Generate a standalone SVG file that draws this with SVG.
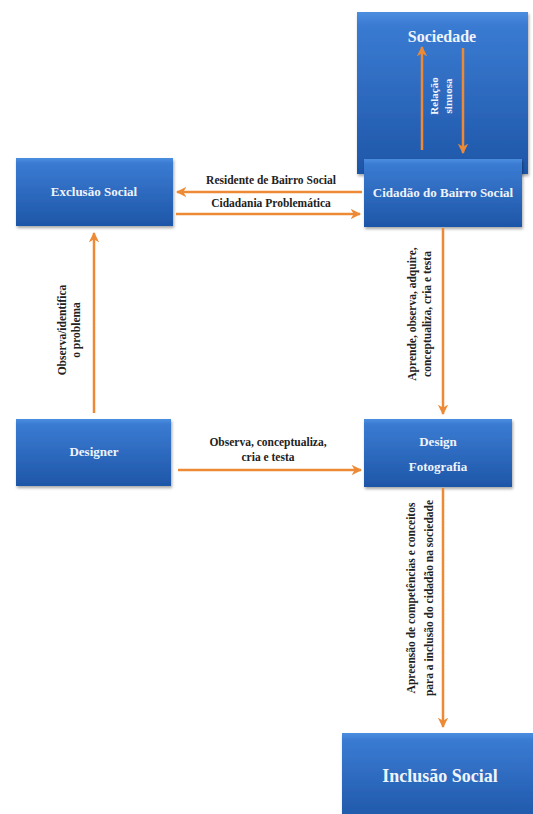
<svg xmlns="http://www.w3.org/2000/svg" width="533" height="814" viewBox="0 0 533 814">
<defs>
<linearGradient id="bg" x1="0" y1="0" x2="0" y2="1">
<stop offset="0" stop-color="#4b8ee0"/>
<stop offset="0.08" stop-color="#3a7bd2"/>
<stop offset="1" stop-color="#1e56a8"/>
</linearGradient>
<filter id="sh" x="-10%" y="-10%" width="130%" height="130%">
<feDropShadow dx="1" dy="2" stdDeviation="1.5" flood-color="#000" flood-opacity="0.35"/>
</filter>
<marker id="ah" viewBox="0 0 10 10" refX="9" refY="5" markerWidth="4.2" markerHeight="4.2" orient="auto" markerUnits="strokeWidth">
<path d="M0,0 L10,5 L0,10 L3,5 Z" fill="#ee8a36"/>
</marker>
</defs>
<style>
.box{fill:url(#bg);filter:url(#sh);}
.bt{font-family:"Liberation Serif",serif;font-weight:bold;fill:#eef4fb;text-anchor:middle;font-size:13px;}
.lt{font-family:"Liberation Serif",serif;font-weight:bold;fill:#222;text-anchor:middle;font-size:11.5px;}
.ar{stroke:#ee8a36;stroke-width:2.5;fill:none;marker-end:url(#ah);}
</style>
<rect width="533" height="814" fill="#ffffff"/>
<g id="sociedade">
<rect class="box" x="357" y="12" width="171" height="162"/>
<text class="bt" x="442" y="42" style="font-size:16px">Sociedade</text>
</g>
<g id="cidadao">
<rect class="box" x="364" y="159" width="158" height="68"/>
<text class="bt" x="443" y="197">Cidadão do Bairro Social</text>
</g>
<g id="exclusao">
<rect class="box" x="16" y="158" width="157" height="68"/>
<text class="bt" x="94" y="196">Exclusão Social</text>
</g>
<g id="designer">
<rect class="box" x="16" y="419" width="155" height="67"/>
<text class="bt" x="94" y="456">Designer</text>
</g>
<g id="design">
<rect class="box" x="364" y="419" width="148" height="68"/>
<text class="bt" x="438" y="446">Design</text>
<text class="bt" x="438" y="471">Fotografia</text>
</g>
<g id="inclusao">
<rect class="box" x="342" y="733" width="195" height="90"/>
<text class="bt" x="440" y="782" style="font-size:18px">Inclusão Social</text>
</g>
<g id="connectors">
<line class="ar" x1="422" y1="150" x2="422" y2="47"/>
<line class="ar" x1="463" y1="48" x2="463" y2="153"/>
<text class="bt" style="font-size:11px" transform="translate(438,96) rotate(-90)">Relação</text>
<text class="bt" style="font-size:11px" transform="translate(452,96) rotate(-90)">sinuosa</text>
<line class="ar" x1="362" y1="192" x2="177" y2="192"/>
<line class="ar" x1="176" y1="214" x2="360" y2="214"/>
<text class="lt" x="271" y="184">Residente de Bairro Social</text>
<text class="lt" x="271" y="207">Cidadania Problemática</text>
<line class="ar" x1="94" y1="413" x2="94" y2="233"/>
<text class="lt" transform="translate(66,330) rotate(-90)">Observa/identifica</text>
<text class="lt" transform="translate(80,330) rotate(-90)">o problema</text>
<line class="ar" x1="443" y1="228" x2="443" y2="414"/>
<text class="lt" transform="translate(416,314) rotate(-90)">Aprende, observa, adquire,</text>
<text class="lt" transform="translate(431,314) rotate(-90)">conceptualiza, cria e testa</text>
<line class="ar" x1="178" y1="470" x2="361" y2="470"/>
<text class="lt" x="268" y="446">Observa, conceptualiza,</text>
<text class="lt" x="268" y="461">cria e testa</text>
<line class="ar" x1="443" y1="488" x2="443" y2="727"/>
<text class="lt" transform="translate(415,598) rotate(-90)">Apreensão de competências e conceitos</text>
<text class="lt" transform="translate(433,598) rotate(-90)">para a inclusão do cidadão na sociedade</text>
</g>
</svg>
